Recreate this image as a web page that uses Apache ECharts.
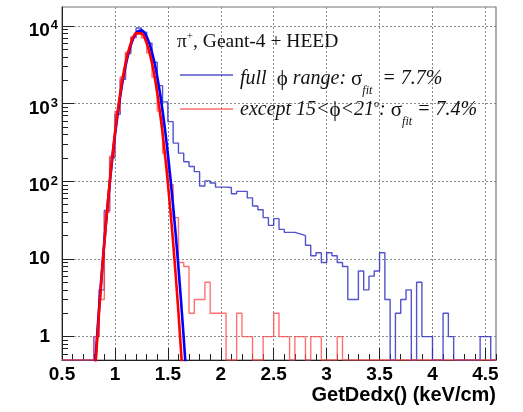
<!DOCTYPE html>
<html><head><meta charset="utf-8">
<script src="https://cdn.jsdelivr.net/npm/echarts@6/dist/echarts.min.js"></script>
<style>html,body{margin:0;padding:0;background:#fff}#c{width:523px;height:412px}</style>
</head><body><div id="c"></div>
<script>
// ---- data ----
const binStart = 0.5;      // low edge of first bin
const binWidth = 0.05;
const xMin = 0.5, xMax = 4.6;
const yMin = 0.5, yMax = 17500;
const xTickLabels = [0.5, 1, 1.5, 2, 2.5, 3, 3.5, 4, 4.5];
const yTickLabels = [1, 10, 100, 1000, 10000];

// full phi range histogram (bins 0.50 ... 4.55)
const fullPhi = [0,0,0,0,0,0,1,4,42,200,
  730,2050,4400,7100,9400,8300,6000,3400,1700,1050,
  585,310,230,178,155,133,87,101,95,84,
  84,83,69,74,74,61,48,43,34,27,
  33,24,22,22,21,20,15,11,12,9,
  12,11,9,8,3,3,7,4,6,7,
  12,3,0,2,3,4,0,5,1,1,
  0,0,2,1,0,0,0,0,0,1,
  1,0];
// except 15<phi<21 histogram
const exceptPhi = [0,0,0,0,0,0,1,3,40,210,
  790,2200,4600,7200,8600,7000,4500,2200,800,230,
  90,34,9,8,2,3,3,5,2,2,
  2,0,0,2,1,1,0,0,1,1,
  2,1,1,0,1,1,0,1,1,0,
  0,0,1,0,0,0,0,0,0,0,
  0,0,0,0,0,0,0,0,0,0,
  0,0,0,0,0,0,0,0,0,0,
  0,0];
// gaussian fit curves
const fullFitX = [0.80,0.85,0.90,0.95,1.00,1.05,1.10,1.15,1.20,1.25,1.30,1.35,1.40,1.45,1.50,1.55,1.60,1.65,1.70];
const fullFitY = [0.24,2.3,16.6,92,387,1242,3039,5671,8068,8752,7239,4565,2195,804,225,48,7.8,0.96,0.09];
const exceptFitX = [0.80,0.85,0.90,0.95,1.00,1.05,1.10,1.15,1.20,1.25,1.30,1.35,1.40,1.45,1.50,1.55,1.60,1.65];
const exceptFitY = [0.19,2.05,16.2,95,417,1360,3298,5953,8000,8000,5953,3298,1360,417,95,16.2,2.05,0.19];

// ---- build ----
function histPoints(arr) {
  const pts = arr.map((v, i) => [binStart + i * binWidth, v > 0 ? v : yMin]);
  const last = arr[arr.length - 1];
  pts.push([xMax, last > 0 ? last : yMin]);
  return pts;
}
const zip = (xs, ys) => xs.map((x, i) => [x, ys[i]]);

const minorX = [];
for (let k = 6; k <= 46; k++) { if (k % 5 !== 0) minorX.push(k / 10); }
const minorY = [0.6, 0.7, 0.8, 0.9];
for (let e = 0; e <= 4; e++) for (let m = 2; m <= 9; m++) { const v = m * Math.pow(10, e); if (v <= yMax) minorY.push(v); }

const sans = 'Liberation Sans, Arial, Helvetica, sans-serif';
const serif = 'Liberation Serif, Times New Roman, Times, serif';

const chart = echarts.init(document.getElementById('c'), null, {renderer: 'canvas'});
const option = {
  animation: false,
  backgroundColor: '#fff',
  grid: {left: 62, right: 27, top: 7, bottom: 52, show: true, borderColor: '#777', borderWidth: 1.2, backgroundColor: 'transparent'},
  xAxis: [{
    type: 'value', min: xMin, max: xMax, interval: 0.5,
    name: 'GetDedx() (keV/cm)', nameLocation: 'end', nameGap: 0,
    nameTextStyle: {align: 'right', verticalAlign: 'top', padding: [25, 0, 0, 0], fontFamily: sans, fontWeight: 'bold', fontSize: 20, color: '#000'},
    axisLine: {show: true, lineStyle: {color: '#222', width: 1}},
    axisTick: {show: true, inside: true, length: 12, customValues: xTickLabels, lineStyle: {color: '#222'}},
    axisLabel: {customValues: xTickLabels, margin: 5, fontFamily: sans, fontWeight: 'bold', fontSize: 19, color: '#000', formatter: v => String(v)},
    splitLine: {show: true, lineStyle: {color: '#888', type: [2, 2], width: 1}}
  }, {
    type: 'value', min: xMin, max: xMax, position: 'bottom',
    axisLine: {show: false},
    axisTick: {show: true, inside: true, length: 6, customValues: minorX, lineStyle: {color: '#222'}},
    axisLabel: {show: false}, splitLine: {show: false}
  }],
  yAxis: [{
    type: 'log', logBase: 10, min: yMin, max: yMax,
    axisLine: {show: true, lineStyle: {color: '#222', width: 1}},
    axisTick: {show: true, inside: true, length: 12, customValues: yTickLabels, lineStyle: {color: '#222'}},
    axisLabel: {
      customValues: yTickLabels, margin: 4, align: 'right',
      formatter: v => {
        const e = Math.round(Math.log10(v));
        if (e === 0) return '{p|1}{sp| }';
        if (e === 1) return '{p|10}{sp| }';
        return '{b|10}{s|' + e + '}';
      },
      rich: {
        p: {fontFamily: sans, fontWeight: 'bold', fontSize: 19, color: '#000'},
        sp: {fontSize: 12, width: 8},
        b: {fontFamily: sans, fontWeight: 'bold', fontSize: 19, color: '#000', lineHeight: 19, padding: [10, 0, 0, 0]},
        s: {fontFamily: sans, fontWeight: 'bold', fontSize: 13, color: '#000', lineHeight: 13, verticalAlign: 'top', padding: [3, 0, 0, 1]}
      }
    },
    splitLine: {show: true, lineStyle: {color: '#888', type: [2, 2], width: 1}}
  }, {
    type: 'log', logBase: 10, min: yMin, max: yMax, position: 'left',
    axisLine: {show: false},
    axisTick: {show: true, inside: true, length: 6, customValues: minorY, lineStyle: {color: '#222'}},
    axisLabel: {show: false}, splitLine: {show: false}
  }],
  series: [
    {name: 'full', type: 'line', step: 'end', data: histPoints(fullPhi), showSymbol: false, clip: true,
     lineStyle: {color: '#3535c6', width: 1.4, opacity: 0.85}, z: 3},
    {name: 'except', type: 'line', step: 'end', data: histPoints(exceptPhi), showSymbol: false, clip: true,
     lineStyle: {color: '#ff4d4d', width: 1.4, opacity: 0.8}, z: 4},
    {name: 'fitFull', type: 'line', data: zip(fullFitX, fullFitY), showSymbol: false, clip: true, smooth: 0.3,
     lineStyle: {color: '#0000ff', width: 2.6}, z: 5},
    {name: 'fitExcept', type: 'line', data: zip(exceptFitX, exceptFitY), showSymbol: false, clip: true, smooth: 0.3,
     lineStyle: {color: '#ff0000', width: 2.6}, z: 6}
  ],
  graphic: [
    {type: 'text', x: 177, y: 42, z: 10, style: {
      text: '{n|π}{u|+}{n|, Geant-4 + HEED}', verticalAlign: 'middle',
      rich: {n: {fontFamily: serif, fontSize: 19.5, fill: '#111', lineHeight: 26},
             u: {fontFamily: serif, fontSize: 11, fill: '#111', lineHeight: 11, verticalAlign: 'top', padding: [2, 0, 0, 0]}}}},
    {type: 'line', z: 10, shape: {x1: 180, y1: 75, x2: 233, y2: 75}, style: {stroke: '#3535c6', lineWidth: 1.4, opacity: 0.85}},
    {type: 'line', z: 10, shape: {x1: 180, y1: 109, x2: 233, y2: 109}, style: {stroke: '#ff4d4d', lineWidth: 1.4, opacity: 0.8}},
    {type: 'text', x: 240, y: 79, z: 10, style: {
      text: '{i|full  }{s|ϕ}{i| range: }{s|σ}{sub|fit}{i|  = 7.7%}', verticalAlign: 'middle',
      rich: {i: {fontFamily: serif, fontStyle: 'italic', fontSize: 20, fill: '#111', lineHeight: 36},
             s: {fontFamily: serif, fontSize: 21, fill: '#111', lineHeight: 36},
             sub: {fontFamily: serif, fontStyle: 'italic', fontSize: 12, fill: '#111', lineHeight: 12, verticalAlign: 'bottom'}}}},
    {type: 'text', x: 240, y: 110, z: 10, style: {
      text: '{i|except 15<}{s|ϕ}{i|<21}{u|o}{i|: }{s|σ}{sub|fit}{i| = 7.4%}', verticalAlign: 'middle',
      rich: {i: {fontFamily: serif, fontStyle: 'italic', fontSize: 20, fill: '#111', lineHeight: 36},
             s: {fontFamily: serif, fontSize: 21, fill: '#111', lineHeight: 36},
             u: {fontFamily: serif, fontSize: 10, fill: '#111', lineHeight: 10, verticalAlign: 'top', padding: [7, 0, 0, 0]},
             sub: {fontFamily: serif, fontStyle: 'italic', fontSize: 12, fill: '#111', lineHeight: 12, verticalAlign: 'bottom'}}}}
  ]
};
chart.setOption(option);
</script>
</body></html>
